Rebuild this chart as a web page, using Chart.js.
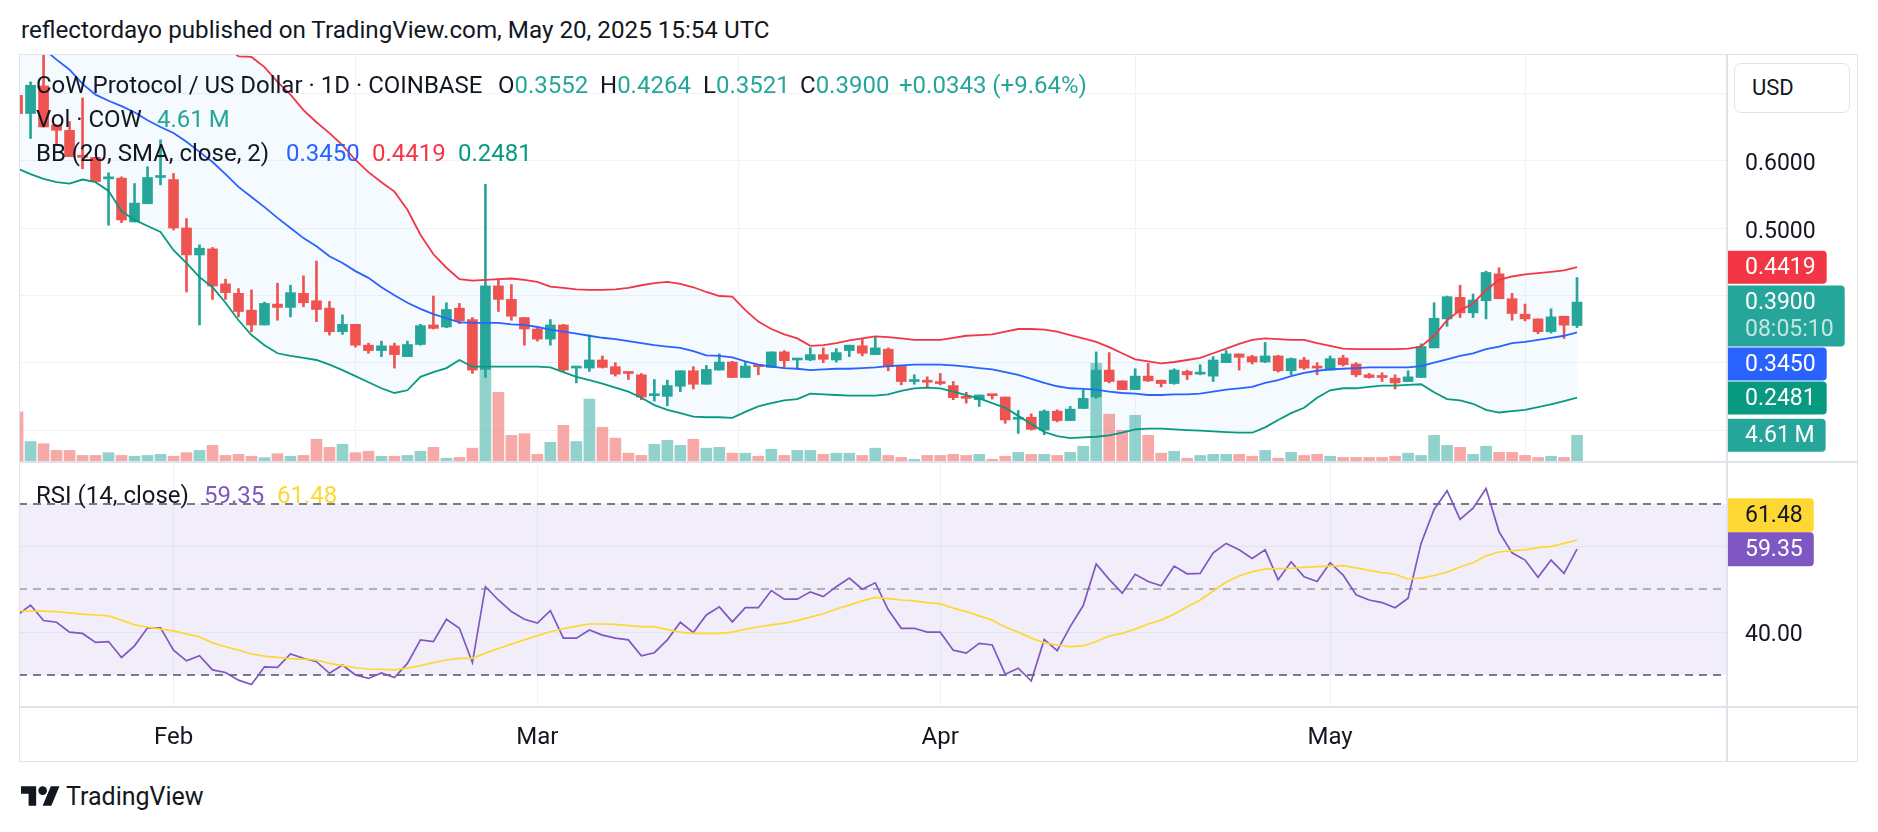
<!DOCTYPE html>
<html><head><meta charset="utf-8"><title>CoW Protocol / US Dollar · 1D · COINBASE</title>
<script src="https://cdn.jsdelivr.net/npm/chart.js@4.4.1/dist/chart.umd.min.js"></script>
<style>
html,body{margin:0;padding:0;background:#fff;}
body{position:relative;width:1878px;height:832px;overflow:hidden;font-family:Roboto,"Noto Sans",sans-serif;color:#131722;}
.t{position:absolute;white-space:nowrap;line-height:1;font-size:24px;}
canvas{position:absolute;left:0;}
#c1{top:54px;} #c2{top:463px;}
.ln{position:absolute;background:#e0e3eb;}
.up{color:#26a69a;}
#usd{position:absolute;left:1734px;top:63px;width:116px;height:50px;box-sizing:border-box;border:1px solid #e0e3eb;border-radius:7px;background:#fff;font-size:22px;line-height:48px;padding-left:17px;}
</style></head><body>
<canvas id="c1" width="1878" height="408"></canvas>
<canvas id="c2" width="1878" height="299"></canvas>

<div class="ln" style="left:19px;top:54px;width:1839px;height:1px"></div>
<div class="ln" style="left:19px;top:761px;width:1839px;height:1px"></div>
<div class="ln" style="left:19px;top:54px;width:1px;height:708px"></div>
<div class="ln" style="left:1857px;top:54px;width:1px;height:708px"></div>
<div class="ln" style="left:1726px;top:54px;width:2px;height:708px"></div>
<div class="ln" style="left:19px;top:461px;width:1839px;height:2px"></div>
<div class="ln" style="left:19px;top:706px;width:1839px;height:2px"></div>

<div class="t" style="left:21px;top:18px;font-size:24.2px">reflectordayo published on TradingView.com, May 20, 2025 15:54 UTC</div>
<div class="t" style="left:36px;top:73px">CoW Protocol / US Dollar · 1D · COINBASE</div>
<div class="t" style="left:498px;top:73px">O<span class="up" id="vO"></span></div>
<div class="t" style="left:600px;top:73px">H<span class="up" id="vH"></span></div>
<div class="t" style="left:703px;top:73px">L<span class="up" id="vL"></span></div>
<div class="t" style="left:800px;top:73px">C<span class="up" id="vC"></span></div>
<div class="t up" style="left:899px;top:73px" id="vChg"></div>
<div class="t" style="left:36px;top:107px">Vol · COW</div>
<div class="t up" style="left:157px;top:107px" id="vVol"></div>
<div class="t" style="left:36px;top:141px">BB (20, SMA, close, 2)</div>
<div class="t" style="left:286px;top:141px;color:#2962ff" id="vBasis"></div>
<div class="t" style="left:372px;top:141px;color:#f23645" id="vUpper"></div>
<div class="t" style="left:458px;top:141px;color:#089981" id="vLower"></div>
<div class="t" style="left:36px;top:483px">RSI (14, close)</div>
<div class="t" style="left:204px;top:483px;color:#7e57c2" id="vRsi"></div>
<div class="t" style="left:277px;top:483px;color:#fdd835" id="vRsiMa"></div>
<div id="usd">USD</div>

<svg style="position:absolute;left:21px;top:786px" width="39" height="20" viewBox="0 4 36 18"><path fill="#131722" d="M14 22H7V11H0V4h14v18zM28 22h-8l7.5-18h8L28 22z"/><circle fill="#131722" cx="20" cy="8" r="4"/></svg>
<div class="t" style="left:66px;top:784px;font-size:25px">TradingView</div>

<script>
// ---- data: one entry per day, Jan 20 2025 (index 0) .. May 20 2025 (index 120) ----
const startDate = '2025-01-20';
const open = [0.697,0.670,0.711,0.653,0.645,0.608,0.605,0.573,0.574,0.509,
 0.536,0.575,0.572,0.500,0.460,0.469,0.417,0.403,0.378,0.356,
 0.387,0.382,0.403,0.392,0.381,0.346,0.357,0.326,0.318,0.325,
 0.309,0.327,0.356,0.353,0.381,0.364,0.290,0.414,0.394,0.367,
 0.350,0.335,0.356,0.292,0.292,0.304,0.294,0.285,0.282,0.251,
 0.250,0.265,0.288,0.268,0.289,0.301,0.278,0.296,0.293,0.316,
 0.304,0.304,0.312,0.304,0.318,0.325,0.312,0.320,0.295,0.272,
 0.272,0.270,0.266,0.250,0.245,0.253,0.249,0.216,0.219,0.200,
 0.228,0.214,0.232,0.249,0.289,0.273,0.260,0.280,0.274,0.269,
 0.287,0.283,0.280,0.300,0.313,0.309,0.301,0.310,0.288,0.304,
 0.294,0.289,0.307,0.298,0.282,0.280,0.277,0.272,0.278,0.322,
 0.365,0.397,0.374,0.392,0.432,0.395,0.372,0.365,0.346,0.369,
 0.3552];
const high = [0.712,0.717,0.757,0.653,0.658,0.693,0.605,0.582,0.576,0.566,
 0.591,0.631,0.581,0.514,0.475,0.471,0.424,0.410,0.408,0.390,
 0.418,0.415,0.429,0.451,0.391,0.371,0.357,0.329,0.332,0.329,
 0.332,0.357,0.399,0.389,0.388,0.367,0.565,0.424,0.416,0.367,
 0.352,0.364,0.357,0.293,0.341,0.310,0.300,0.286,0.284,0.275,
 0.274,0.288,0.294,0.296,0.313,0.302,0.301,0.296,0.316,0.318,
 0.305,0.322,0.322,0.321,0.326,0.335,0.338,0.322,0.295,0.282,
 0.279,0.284,0.272,0.256,0.252,0.253,0.249,0.229,0.224,0.230,
 0.230,0.235,0.259,0.316,0.315,0.273,0.291,0.299,0.274,0.291,
 0.289,0.297,0.309,0.318,0.313,0.311,0.330,0.311,0.307,0.308,
 0.300,0.310,0.311,0.300,0.284,0.285,0.282,0.288,0.328,0.389,
 0.399,0.415,0.402,0.436,0.441,0.403,0.387,0.365,0.380,0.369,
 0.4264];
const low = [0.660,0.633,0.650,0.623,0.606,0.588,0.569,0.504,0.508,0.509,
 0.536,0.564,0.497,0.405,0.356,0.394,0.394,0.368,0.346,0.356,
 0.363,0.368,0.383,0.361,0.341,0.342,0.323,0.314,0.309,0.292,
 0.309,0.326,0.350,0.352,0.358,0.284,0.278,0.376,0.363,0.326,
 0.332,0.326,0.287,0.270,0.287,0.292,0.280,0.275,0.245,0.243,
 0.236,0.257,0.261,0.268,0.289,0.278,0.278,0.282,0.293,0.293,
 0.290,0.303,0.300,0.301,0.309,0.310,0.312,0.288,0.267,0.268,
 0.263,0.267,0.245,0.240,0.235,0.246,0.210,0.195,0.200,0.193,
 0.212,0.214,0.232,0.247,0.270,0.260,0.260,0.272,0.264,0.268,
 0.275,0.282,0.272,0.300,0.289,0.298,0.300,0.286,0.282,0.290,
 0.282,0.289,0.295,0.279,0.277,0.272,0.261,0.272,0.278,0.322,
 0.354,0.367,0.367,0.365,0.395,0.363,0.362,0.343,0.344,0.336,
 0.3521];
const close = [0.670,0.712,0.650,0.645,0.606,0.605,0.569,0.576,0.512,0.537,
 0.575,0.577,0.500,0.460,0.470,0.414,0.404,0.376,0.356,0.388,
 0.382,0.404,0.389,0.379,0.346,0.357,0.326,0.318,0.325,0.312,
 0.327,0.355,0.351,0.379,0.362,0.289,0.414,0.394,0.369,0.350,
 0.335,0.356,0.289,0.293,0.304,0.293,0.283,0.284,0.249,0.252,
 0.266,0.288,0.268,0.290,0.301,0.278,0.295,0.294,0.316,0.303,
 0.305,0.312,0.305,0.315,0.326,0.314,0.322,0.294,0.272,0.273,
 0.271,0.269,0.248,0.247,0.252,0.251,0.215,0.218,0.201,0.228,
 0.214,0.231,0.247,0.289,0.272,0.260,0.280,0.273,0.269,0.289,
 0.282,0.284,0.304,0.313,0.308,0.301,0.310,0.288,0.306,0.292,
 0.292,0.306,0.297,0.282,0.278,0.278,0.270,0.279,0.324,0.366,
 0.398,0.374,0.393,0.434,0.395,0.373,0.365,0.346,0.368,0.3557,
 0.3900];
// volume in millions of COW
const volume = [8.8,3.5,3.1,1.9,1.9,1.0,1.0,1.5,1.0,0.85,
 1.0,1.2,0.85,1.5,1.9,2.8,1.0,1.2,0.85,0.6,
 1.3,0.85,1.0,3.9,2.45,3.0,1.5,1.75,0.85,0.85,
 1.0,1.75,2.45,0.5,0.65,2.3,18.1,12.3,4.6,4.9,
 1.2,3.35,6.4,3.5,11.1,6.05,4.1,1.4,1.0,3.0,
 3.7,2.8,3.9,2.3,2.45,1.4,1.4,0.85,2.1,1.0,
 1.9,1.9,1.2,1.4,1.4,1.0,2.3,1.0,0.65,0.3,
 1.0,1.0,1.2,1.0,1.2,0.3,0.85,1.55,1.2,1.2,
 1.0,1.55,2.65,17.5,8.4,5.5,8.2,4.6,1.4,1.75,
 0.5,1.0,1.2,1.2,1.2,0.85,1.9,0.5,1.55,1.0,
 1.2,0.85,0.65,0.65,0.65,0.65,0.85,1.4,1.0,4.6,
 2.8,2.45,1.2,2.65,1.55,1.55,1.0,0.65,0.85,0.65,
 4.61];
const bbUpper = [0.86,0.86,0.85,0.85,0.84,0.84,0.83,0.83,0.82,0.82,
 0.81,0.80,0.79,0.79,0.78,0.78,0.77,0.755,0.754,0.739,
 0.717,0.698,0.675,0.657,0.641,0.623,0.601,0.583,0.568,0.554,
 0.527,0.490,0.461,0.441,0.424,0.422,0.423,0.424,0.425,0.423,
 0.420,0.413,0.411,0.409,0.408,0.408,0.409,0.411,0.415,0.418,
 0.420,0.417,0.412,0.405,0.399,0.398,0.378,0.361,0.350,0.342,
 0.336,0.325,0.326,0.329,0.333,0.336,0.339,0.338,0.336,0.334,
 0.334,0.334,0.337,0.340,0.341,0.342,0.346,0.350,0.350,0.349,
 0.346,0.341,0.336,0.331,0.323,0.314,0.305,0.302,0.299,0.301,
 0.304,0.307,0.314,0.321,0.328,0.334,0.336,0.335,0.334,0.334,
 0.329,0.325,0.321,0.320,0.320,0.320,0.320,0.321,0.324,0.340,
 0.363,0.378,0.388,0.408,0.423,0.428,0.431,0.433,0.435,0.437,
 0.4419];
const bbBasis = [0.804,0.787,0.766,0.750,0.735,0.714,0.698,0.689,0.681,0.672,
 0.660,0.650,0.641,0.628,0.613,0.598,0.580,0.561,0.546,0.531,
 0.515,0.500,0.485,0.473,0.458,0.448,0.436,0.426,0.412,0.400,
 0.389,0.380,0.372,0.366,0.360,0.359,0.359,0.359,0.357,0.356,
 0.353,0.349,0.346,0.343,0.340,0.337,0.335,0.332,0.329,0.326,
 0.324,0.322,0.317,0.311,0.310,0.308,0.302,0.297,0.294,0.292,
 0.291,0.289,0.290,0.291,0.291,0.292,0.293,0.295,0.296,0.297,
 0.297,0.297,0.296,0.294,0.292,0.290,0.286,0.282,0.276,0.270,
 0.265,0.262,0.261,0.260,0.257,0.255,0.254,0.252,0.252,0.253,
 0.253,0.254,0.257,0.260,0.262,0.264,0.270,0.274,0.280,0.285,
 0.288,0.290,0.291,0.292,0.293,0.293,0.293,0.293,0.295,0.300,
 0.305,0.310,0.314,0.320,0.324,0.329,0.331,0.334,0.337,0.340,
 0.3450];
const bbLower = [0.588,0.580,0.573,0.568,0.566,0.572,0.568,0.555,0.525,0.512,
 0.503,0.494,0.467,0.448,0.427,0.412,0.389,0.363,0.341,0.326,
 0.314,0.310,0.307,0.304,0.297,0.289,0.280,0.271,0.262,0.255,
 0.259,0.279,0.286,0.292,0.304,0.294,0.294,0.294,0.294,0.294,
 0.294,0.293,0.286,0.279,0.274,0.269,0.263,0.257,0.248,0.237,
 0.230,0.225,0.220,0.219,0.219,0.218,0.227,0.235,0.240,0.244,
 0.246,0.254,0.253,0.252,0.251,0.251,0.251,0.253,0.258,0.262,
 0.263,0.262,0.257,0.252,0.247,0.240,0.233,0.221,0.209,0.197,
 0.191,0.188,0.189,0.190,0.192,0.196,0.201,0.202,0.202,0.201,
 0.200,0.199,0.198,0.197,0.196,0.196,0.204,0.215,0.225,0.233,
 0.248,0.259,0.262,0.262,0.264,0.266,0.266,0.267,0.268,0.256,
 0.246,0.244,0.239,0.230,0.226,0.228,0.230,0.234,0.238,0.243,
 0.2481];
const rsi = [44.0,46.3,42.7,42.3,40.0,39.7,37.6,37.8,34.1,36.8,
 41.0,41.0,35.8,33.3,34.5,31.2,30.6,28.8,27.8,31.9,
 31.8,34.9,33.9,33.1,30.4,32.3,30.0,29.2,30.5,29.4,
 32.7,38.2,37.8,43.0,40.9,32.9,50.6,47.5,44.8,43.0,
 42.1,45.0,38.6,38.6,40.5,39.3,38.6,38.2,34.5,35.2,
 38.2,42.3,39.9,44.0,45.9,42.4,45.7,45.7,49.7,47.7,
 47.7,49.4,48.3,50.6,52.6,50.0,51.5,45.2,40.9,40.9,
 40.0,40.0,35.8,35.1,37.4,37.0,30.2,31.6,28.6,38.3,
 35.7,41.3,46.2,55.9,52.3,49.1,53.5,51.8,50.8,55.4,
 53.6,53.7,58.5,60.7,59.2,57.2,59.2,52.2,56.4,52.9,
 51.8,56.2,53.3,48.7,47.5,46.9,45.7,47.9,60.7,68.6,
 73.0,66.3,68.9,73.5,63.4,58.5,56.8,52.8,56.8,53.7,
 59.35];
const rsiMa = [45.0,44.9,44.9,44.8,44.5,44.2,44.0,43.8,42.8,41.7,
 41.2,40.7,40.3,39.6,38.9,37.5,36.6,35.8,34.9,34.4,
 34.1,33.8,33.7,33.5,32.7,32.2,31.7,31.4,31.3,31.2,
 31.6,32.2,32.9,33.5,33.9,33.9,35.1,36.2,37.2,38.2,
 39.2,40.1,40.8,41.4,41.9,41.9,41.8,41.5,41.3,41.3,
 40.6,40.0,39.7,39.7,39.7,40.0,40.7,41.2,41.7,42.1,
 42.7,43.5,44.3,45.4,46.3,47.3,48.1,47.8,47.5,47.3,
 46.9,46.6,45.6,44.8,43.8,42.8,41.2,40.0,38.6,37.5,
 37.0,36.6,36.8,37.8,39.1,39.7,40.7,41.9,42.8,44.2,
 45.9,47.5,49.6,51.7,53.1,54.1,54.7,54.8,54.9,55.1,
 55.3,55.4,55.5,55.0,54.4,53.9,53.5,52.4,52.6,53.2,
 54.0,55.2,56.2,57.8,58.7,59.0,59.2,59.7,60.0,60.7,
 61.48];
// tick labels
const monthTicks = [12, 40, 71, 101];
const monthLabels = ['Feb', 'Mar', 'Apr', 'May'];
const priceTicks = [0.2, 0.3, 0.4, 0.5, 0.6, 0.7];
const rsiTicks = [40, 60];
const rsiLevels = [70, 50, 30];
const countdown = '08:05:10';

// ---- layout / style ----
const X_RANGE = {min: 0.11, max: 131.54};
const PRICE_RANGE = {min: 0.154, max: 0.7584};
const VOL_MAX = 73;
const RSI_RANGE = {min: 22.54, max: 79.45};
const PAD_LEFT = 19, AXIS_W = 151;
const GRID = '#f0f3fa';
const UPC = '#26a69a', DNC = '#ef5350';
const FONT = 'Roboto, "Noto Sans", sans-serif';
Chart.defaults.font.family = FONT;
Chart.defaults.color = '#131722';

const N = close.length, L = N - 1;
const days = close.map((_, i) => i);
const isUp = days.map(i => close[i] >= open[i]);
const candleColors = isUp.map(u => u ? UPC : DNC);
const volColors = isUp.map(u => u ? 'rgba(38,166,154,0.5)' : 'rgba(239,83,80,0.5)');
const pts = arr => days.map(i => ({x: i, y: arr[i]}));

// legend values
const setT = (id, s) => document.getElementById(id).textContent = s;
setT('vO', open[L].toFixed(4)); setT('vH', high[L].toFixed(4));
setT('vL', low[L].toFixed(4)); setT('vC', close[L].toFixed(4));
const chg = close[L] - close[L - 1];
setT('vChg', (chg >= 0 ? '+' : '') + chg.toFixed(4) + ' (' + (chg >= 0 ? '+' : '') + (chg / close[L - 1] * 100).toFixed(2) + '%)');
setT('vVol', volume[L].toFixed(2) + '\u2009M');
setT('vBasis', bbBasis[L].toFixed(4)); setT('vUpper', bbUpper[L].toFixed(4)); setT('vLower', bbLower[L].toFixed(4));
setT('vRsi', rsi[L].toFixed(2)); setT('vRsiMa', rsiMa[L].toFixed(2));

function tagPath(ctx, x, y, w, h, r) {
  ctx.beginPath();
  ctx.moveTo(x, y); ctx.lineTo(x + w - r, y);
  ctx.quadraticCurveTo(x + w, y, x + w, y + r);
  ctx.lineTo(x + w, y + h - r);
  ctx.quadraticCurveTo(x + w, y + h, x + w - r, y + h);
  ctx.lineTo(x, y + h); ctx.closePath();
}
function drawTags(chart, tags) {
  const ctx = chart.ctx, x0 = chart.chartArea.right + 1;
  ctx.save();
  ctx.font = '23px ' + FONT; ctx.textBaseline = 'middle'; ctx.textAlign = 'left';
  tags.forEach(t => {
    const w = Math.max(...t.lines.map(s => ctx.measureText(s).width)) + 28;
    tagPath(ctx, x0, t.top, w, t.h, 4);
    ctx.fillStyle = t.bg; ctx.fill();
    t.lines.forEach((s, k) => {
      ctx.fillStyle = k === 0 ? t.fg : t.sub;
      ctx.fillText(s, x0 + 17, t.top + t.h1 / 2 + 1 + k * 27);
    });
  });
  ctx.restore();
}
const noPad = s => { s.paddingTop = 0; s.paddingBottom = 0; };

const mainTags = {
  id: 'mainTags',
  afterDraw(chart) {
    const y = chart.scales.y, yv = chart.scales.yVol;
    const tags = [
      {py: y.getPixelForValue(bbUpper[L]), bg: '#f23645', fg: '#fff', lines: [bbUpper[L].toFixed(4)]},
      {py: y.getPixelForValue(close[L]), bg: '#26a69a', fg: '#fff', sub: 'rgba(255,255,255,0.72)', lines: [close[L].toFixed(4), countdown]},
      {py: y.getPixelForValue(bbBasis[L]), bg: '#2962ff', fg: '#fff', lines: [bbBasis[L].toFixed(4)]},
      {py: y.getPixelForValue(bbLower[L]), bg: '#089981', fg: '#fff', lines: [bbLower[L].toFixed(4)]},
      {py: yv.getPixelForValue(volume[L]), bg: '#26a69a', fg: '#fff', lines: [volume[L].toFixed(2) + '\u2009M']}
    ];
    tags.sort((a, b) => a.py - b.py);
    let prev = -1e9;
    tags.forEach(t => {
      t.h1 = 33; t.h = t.lines.length > 1 ? 61 : 33;
      t.top = Math.max(t.py - 16.5, prev + 1);
      prev = t.top + t.h;
    });
    drawTags(chart, tags);
  }
};

const rsiDeco = {
  id: 'rsiDeco',
  beforeDatasetsDraw(chart) {
    const {ctx, chartArea: a, scales: {y}} = chart;
    const yu = y.getPixelForValue(rsiLevels[0]), ym = y.getPixelForValue(rsiLevels[1]), yl = y.getPixelForValue(rsiLevels[2]);
    ctx.save();
    ctx.fillStyle = 'rgba(126,87,194,0.1)';
    ctx.fillRect(a.left, yu, a.right - a.left, yl - yu);
    ctx.lineWidth = 2; ctx.setLineDash([8, 6]);
    [[yu, '#787b86'], [ym, 'rgba(120,123,134,0.55)'], [yl, '#787b86']].forEach(([yy, c]) => {
      ctx.strokeStyle = c; ctx.beginPath();
      ctx.moveTo(a.left, Math.round(yy)); ctx.lineTo(a.right, Math.round(yy)); ctx.stroke();
    });
    ctx.restore();
  },
  afterDraw(chart) {
    const y = chart.scales.y;
    const p = {py: y.getPixelForValue(rsi[L]), bg: '#7e57c2', fg: '#fff', lines: [rsi[L].toFixed(2)], h1: 34, h: 34};
    p.top = p.py - 17;
    const m = {py: y.getPixelForValue(rsiMa[L]), bg: '#fdd835', fg: '#131722', lines: [rsiMa[L].toFixed(2)], h1: 34, h: 34};
    m.top = Math.min(m.py - 17, p.top - m.h);
    drawTags(chart, [m, p]);
  }
};

const xCommon = {
  type: 'linear', min: X_RANGE.min, max: X_RANGE.max, offset: false,
  afterBuildTicks: s => { s.ticks = monthTicks.map(v => ({value: v})); },
  grid: {color: GRID, drawTicks: false, lineWidth: 1},
  border: {display: false}
};

new Chart(document.getElementById('c1'), {
  type: 'bar',
  data: {datasets: [
    {type: 'line', label: 'BB upper', data: pts(bbUpper), borderColor: '#f23645', borderWidth: 1.8, pointRadius: 0,
     fill: '+2', backgroundColor: 'rgba(33,150,243,0.05)', yAxisID: 'y', order: 1},
    {type: 'line', label: 'BB basis', data: pts(bbBasis), borderColor: '#2962ff', borderWidth: 1.8, pointRadius: 0, fill: false, yAxisID: 'y', order: 1},
    {type: 'line', label: 'BB lower', data: pts(bbLower), borderColor: '#089981', borderWidth: 1.8, pointRadius: 0, fill: false, yAxisID: 'y', order: 1},
    {label: 'wick', data: days.map(i => ({x: i, y: [low[i], high[i]]})), backgroundColor: candleColors, barThickness: 2, grouped: false, yAxisID: 'y', order: 3},
    {label: 'body', data: days.map(i => ({x: i, y: [open[i], close[i]]})), backgroundColor: candleColors, barThickness: 10, minBarLength: 2, grouped: false, yAxisID: 'y', order: 2},
    {label: 'volume', data: pts(volume), backgroundColor: volColors, barThickness: 11, grouped: false, yAxisID: 'yVol', order: 5}
  ]},
  options: {
    responsive: false, animation: false, devicePixelRatio: 1,
    layout: {padding: {left: PAD_LEFT, right: 0, top: 0, bottom: 1}},
    plugins: {legend: {display: false}, tooltip: {enabled: false}, filler: {drawTime: 'beforeDatasetsDraw'}},
    scales: {
      x: Object.assign({}, xCommon, {ticks: {display: false}, afterFit: s => { s.height = 0; s.paddingLeft = 0; s.paddingRight = 0; }}),
      y: {position: 'right', min: PRICE_RANGE.min, max: PRICE_RANGE.max,
          afterBuildTicks: s => { s.ticks = priceTicks.map(v => ({value: v})); },
          ticks: {callback: v => v.toFixed(4), color: '#131722', font: {size: 23}, padding: 18, labelOffset: 4},
          grid: {color: GRID, drawTicks: false}, border: {display: false},
          afterFit: s => { s.width = AXIS_W; noPad(s); }},
      yVol: {display: false, min: 0, max: VOL_MAX}
    }
  },
  plugins: [mainTags]
});

new Chart(document.getElementById('c2'), {
  type: 'line',
  data: {datasets: [
    {label: 'RSI', data: pts(rsi), borderColor: '#7e57c2', borderWidth: 1.7, pointRadius: 0, fill: false, order: 2},
    {label: 'RSI-based MA', data: pts(rsiMa), borderColor: '#fdd835', borderWidth: 1.7, pointRadius: 0, fill: false, order: 1}
  ]},
  options: {
    responsive: false, animation: false, devicePixelRatio: 1,
    layout: {padding: {left: PAD_LEFT, right: 0, top: 0, bottom: 0}},
    plugins: {legend: {display: false}, tooltip: {enabled: false}},
    scales: {
      x: Object.assign({}, xCommon, {
        ticks: {callback: v => { const k = monthTicks.indexOf(v); return k >= 0 ? monthLabels[k] : ''; },
                color: '#131722', font: {size: 24}, padding: 17, maxRotation: 0, autoSkip: false},
        afterFit: s => { s.height = 55; s.paddingLeft = 0; s.paddingRight = 0; }}),
      y: {position: 'right', min: RSI_RANGE.min, max: RSI_RANGE.max,
          afterBuildTicks: s => { s.ticks = rsiTicks.map(v => ({value: v})); },
          ticks: {callback: v => v.toFixed(2), color: '#131722', font: {size: 23}, padding: 18, labelOffset: 3},
          grid: {color: GRID, drawTicks: false}, border: {display: false},
          afterFit: s => { s.width = AXIS_W; noPad(s); }}
    }
  },
  plugins: [rsiDeco]
});
</script>
</body></html>
